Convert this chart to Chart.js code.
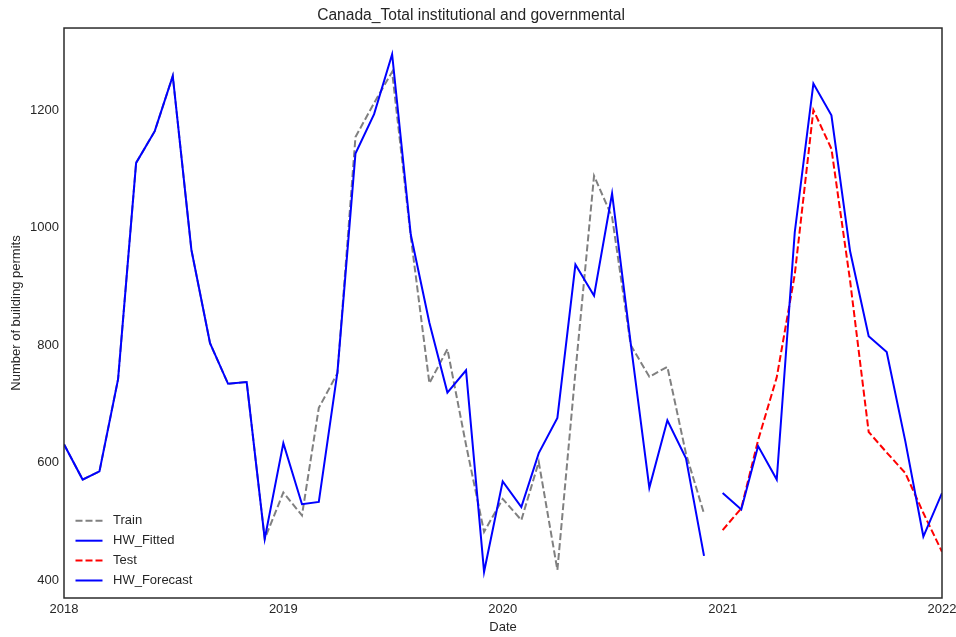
<!DOCTYPE html>
<html>
<head>
<meta charset="utf-8">
<title>Canada_Total institutional and governmental</title>
<script src="https://cdn.jsdelivr.net/npm/chart.js@4.4.1/dist/chart.umd.min.js"></script>
<style>
  html, body { margin: 0; padding: 0; background: #ffffff; }
  #wrap { width: 956px; height: 637px; }
</style>
</head>
<body>
<div id="wrap"><canvas id="chart" width="956" height="637"></canvas></div>
<script>
// Monthly building permits, Canada — total institutional and governmental
const trainMonths = [
  "2018-01", "2018-02", "2018-03", "2018-04", "2018-05", "2018-06",
  "2018-07", "2018-08", "2018-09", "2018-10", "2018-11", "2018-12",
  "2019-01", "2019-02", "2019-03", "2019-04", "2019-05", "2019-06",
  "2019-07", "2019-08", "2019-09", "2019-10", "2019-11", "2019-12",
  "2020-01", "2020-02", "2020-03", "2020-04", "2020-05", "2020-06",
  "2020-07", "2020-08", "2020-09", "2020-10", "2020-11", "2020-12"
];
const trainValues = [
  631, 571, 585, 742, 1110, 1164, 1258, 962, 803, 734, 737, 470,
  549, 510, 693, 752, 1154, 1212, 1265, 985, 735, 793, 630, 482,
  538, 502, 601, 417, 754, 1088, 1018, 800, 746, 763, 615, 513
];
const fittedValues = [
  631, 571, 585, 742, 1110, 1164, 1258, 962, 803, 734, 737, 470,
  633, 529, 533, 754, 1126, 1193, 1295, 988, 838, 719, 757, 414,
  568, 524, 616, 676, 937, 884, 1058, 803, 557, 672, 607, 441
];
const testMonths = [
  "2021-01", "2021-02", "2021-03", "2021-04", "2021-05", "2021-06", "2021-07",
  "2021-08", "2021-09", "2021-10", "2021-11", "2021-12", "2022-01"
];
const testValues = [485, 522, 638, 745, 920, 1200, 1134, 910, 652, 617, 582, 514, 448];
const forecastValues = [548, 520, 628, 571, 992, 1245, 1191, 960, 815, 788, 636, 474, 548];

const yearTicks = [2018, 2019, 2020, 2021, 2022];
const valueTicks = [400, 600, 800, 1000, 1200];

const FONT = "'Liberation Sans', Arial, Helvetica, sans-serif";
const TEXT = "#262626";
const DAY = 86400000;

// month string "YYYY-MM" -> days since epoch (first of month)
function toDay(s) {
  const [y, m] = s.split("-").map(Number);
  return Date.UTC(y, m - 1, 1) / DAY;
}
function points(months, values) {
  return months.map((m, i) => ({ x: toDay(m), y: values[i] }));
}

// box around the plotting area
const framePlugin = {
  id: "frame",
  afterDatasetsDraw(chart) {
    const { ctx, chartArea: a } = chart;
    ctx.save();
    ctx.strokeStyle = "#2b2b2b";
    ctx.lineWidth = 1.5;
    ctx.strokeRect(a.left, a.top, a.right - a.left, a.bottom - a.top);
    ctx.restore();
  }
};

// frameless legend in the lower-left corner of the plot
const cornerLegend = {
  id: "cornerLegend",
  afterDraw(chart) {
    const { ctx, chartArea: a } = chart;
    const sets = chart.data.datasets;
    const step = 19.9;
    const x0 = a.left + 11.5;
    const len = 27;
    const gap = 10.5;
    const yLast = a.bottom - 17.5;
    ctx.save();
    ctx.font = "13px " + FONT;
    ctx.textBaseline = "middle";
    ctx.textAlign = "left";
    sets.forEach((d, i) => {
      const y = yLast - (sets.length - 1 - i) * step;
      ctx.beginPath();
      ctx.setLineDash(d.borderDash || []);
      ctx.lineWidth = 2;
      ctx.strokeStyle = d.borderColor;
      ctx.moveTo(x0, y);
      ctx.lineTo(x0 + len, y);
      ctx.stroke();
      ctx.setLineDash([]);
      ctx.fillStyle = TEXT;
      ctx.fillText(d.label, x0 + len + gap, y);
    });
    ctx.restore();
  }
};

const tickFont = { family: FONT, size: 13, weight: "normal" };

new Chart(document.getElementById("chart"), {
  type: "line",
  data: {
    datasets: [
      { label: "Train", data: points(trainMonths, trainValues),
        borderColor: "#808080", borderDash: [7, 3], order: 4 },
      { label: "HW_Fitted", data: points(trainMonths, fittedValues),
        borderColor: "#0000ff", order: 3 },
      { label: "Test", data: points(testMonths, testValues),
        borderColor: "#ff0000", borderDash: [7, 3], order: 2 },
      { label: "HW_Forecast", data: points(testMonths, forecastValues),
        borderColor: "#0000ff", order: 1 }
    ]
  },
  options: {
    responsive: false,
    animation: false,
    devicePixelRatio: 1,
    layout: { padding: { left: 0, right: 14, top: 0, bottom: 0 } },
    elements: {
      line: { borderWidth: 2, tension: 0, fill: false, borderCapStyle: "butt", borderJoinStyle: "miter" },
      point: { radius: 0, hoverRadius: 0 }
    },
    events: [],
    plugins: {
      legend: { display: false },
      tooltip: { enabled: false },
      title: {
        display: true,
        text: "Canada_Total institutional and governmental",
        color: TEXT,
        font: { family: FONT, size: 15.6, weight: "normal" },
        padding: { top: 6, bottom: 3.3 }
      }
    },
    scales: {
      x: {
        type: "linear",
        min: toDay("2018-01"),
        max: toDay("2022-01"),
        grid: { display: false, drawTicks: false },
        border: { display: false },
        afterBuildTicks(scale) {
          scale.ticks = yearTicks.map(y => ({ value: Date.UTC(y, 0, 1) / DAY }));
        },
        ticks: {
          autoSkip: false,
          maxRotation: 0,
          padding: 4,
          color: TEXT,
          font: tickFont,
          callback: v => String(new Date(v * DAY).getUTCFullYear())
        },
        title: { display: true, text: "Date", color: TEXT, font: tickFont, padding: { top: 0, bottom: 2 } },
        afterFit(scale) {
          scale.height = 39;
          scale.paddingLeft = 0;
          scale.paddingRight = 0;
        }
      },
      y: {
        min: 369.4,
        max: 1339.6,
        grid: { display: false, drawTicks: false },
        border: { display: false },
        afterBuildTicks(scale) {
          scale.ticks = valueTicks.map(v => ({ value: v }));
        },
        ticks: {
          padding: 5,
          color: TEXT,
          font: tickFont,
          callback: v => String(v)
        },
        title: { display: true, text: "Number of building permits", color: TEXT, font: tickFont, padding: { top: 8.5, bottom: 0 } },
        afterFit(scale) {
          scale.width = 64;
          scale.paddingTop = 0;
          scale.paddingBottom = 0;
        }
      }
    }
  },
  plugins: [framePlugin, cornerLegend]
});
</script>
</body>
</html>
